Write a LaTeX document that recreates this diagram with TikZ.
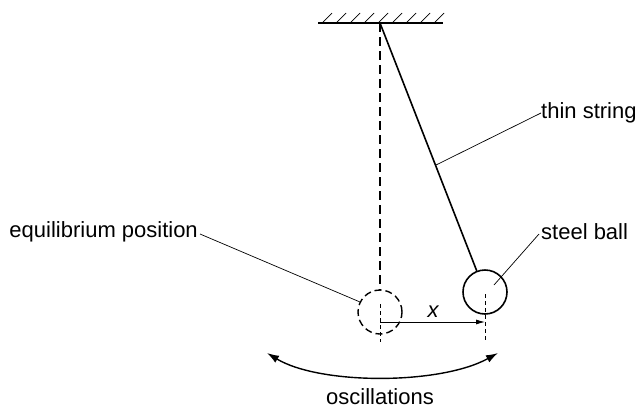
\documentclass[tikz,border=0pt]{standalone}
\usepackage{fontspec}
\setmainfont{Liberation Sans}
\usetikzlibrary{arrows.meta}
\begin{document}
\begin{tikzpicture}[x=1pt,y=-1pt,
  lbl/.style={font=\fontsize{22}{25}\selectfont,inner sep=0pt},
  leader/.style={line width=0.7pt},
  cl/.style={line width=0.7pt,dash pattern=on 4pt off 3pt}]
\useasboundingbox (0,0) rectangle (643,405);
% ceiling
\draw[line width=1.4pt] (318,23) -- (443,23);
\foreach \i in {0,...,8} \draw[line width=0.7pt] (322+14*\i,23) -- (332+14*\i,13);
\coordinate (pivot) at (380,23);
% equilibrium
\node[draw,line width=1.4pt,dash pattern=on 7pt off 4pt,circle,minimum size=44pt,inner sep=0pt] (eq) at (380,312) {};
\draw[line width=1.4pt,dash pattern=on 9pt off 5pt] (pivot) -- (eq.north);
\draw[cl] (380,304) -- (380,342);
% ball
\node[draw,line width=1.6pt,circle,minimum size=44pt,inner sep=0pt] (ball) at (485,292) {};
\draw[line width=1.6pt] (pivot) -- (ball);
\draw[cl] (485,294) -- (485,342);
% x
\coordinate (xa) at (380,322);
\coordinate (xb) at (485,322);
\draw[line width=0.9pt,-{Latex[length=9pt,width=5pt]}] (xa) -- (xb);
\node[lbl,font=\fontsize{22}{25}\selectfont\itshape] (xl) at (433,312) {x};
% labels
\node[lbl,anchor=west] (ts) at (541,113) {thin string};
\coordinate (tsp) at (436,165);
\draw[leader] (ts.west) -- (tsp);
\node[lbl,anchor=east] (ep) at (198,232) {equilibrium position};
\coordinate (epp) at (360,302);
\draw[leader] (ep.east) ++(2,2) -- (epp);
\node[lbl,anchor=west] (sb) at (541,232) {steel ball};
\coordinate (sbp) at (494,285);
\draw[leader] (sb.west) ++(-2,2) -- (sbp);
% oscillations
\coordinate (ol) at (267,353);
\coordinate (or) at (498,353);
\draw[line width=1.4pt,{Latex[length=12pt,width=8pt]}-{Latex[length=12pt,width=8pt]}] (ol) .. controls (320,385) and (440,385) .. (or);
\node[lbl,anchor=north] (osc) at (380,388) {oscillations};
\end{tikzpicture}
\end{document}
